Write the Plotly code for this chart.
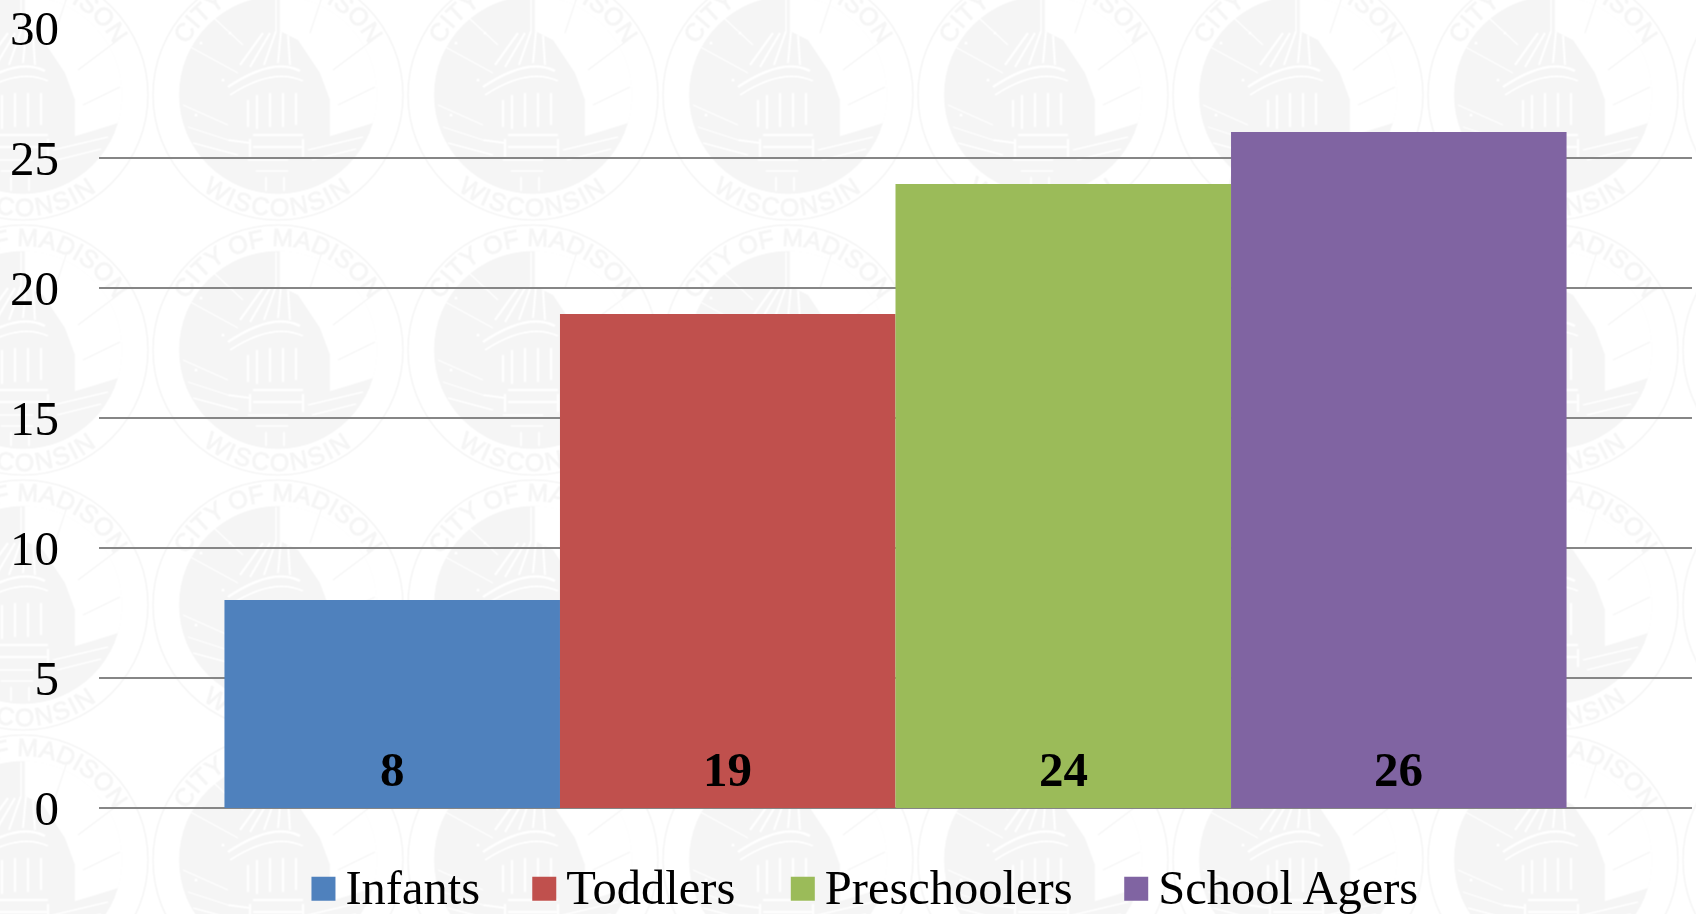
import base64
import plotly.graph_objects as go

# ---- data ----
categories = ["Infants", "Toddlers", "Preschoolers", "School Agers"]
values = [8, 19, 24, 26]
colors = ["#4F81BD", "#C0504D", "#9BBB59", "#8064A2"]
tick_values = [0, 5, 10, 15, 20, 25, 30]
legend_left = [0.1271, 0.2657, 0.4280, 0.6373]

W, H = 1696, 914
ML, MR, MT, MB = 99, 4, 28, 106
PW, PH = W - ML - MR, H - MT - MB

FONT = "Liberation Serif"
INK = "#f5f5f5"
BARGAP = 0.1575


def seal_svg():
    """Faint tiled city seal used as the page wallpaper."""
    white_lines = [
        (-40, -22, -95, -52, 1.2), (-35, -50, -78, -90, 1.2), (-50, 30, -95, 10, 1.2),
        (-50, 45, -90, 32, 1.2), (-30, 5, -30, 32, 2), (-21, 0, -21, 34, 2), (-8, -2, -8, 32, 2),
        (5, -2, 5, 32, 2), (18, -2, 18, 30, 2), (-25, 40, 25, 40, 2), (-25, 52, 25, 52, 2),
        (-28, 62, -28, 44, 2), (25, 62, 25, 44, 2), (-30, 65, 10, 65, 1.6), (-22, 76, 10, 76, 1.6),
        (-12, 82, -12, 96, 1.6), (6, 82, 6, 96, 1.6), (-50, 45, -28, 48, 2), (30, 55, 85, 42, 1.5),
        (34, 65, 78, 54, 1.5), (-85, 48, -40, 60, 1.5), (-2, -98, -2, -62, 1.2),
    ]
    gray_lines = [(55, -25, 95, -55, 1.2), (60, 10, 97, -8, 1.2), (44, -98, 32, -62, 1.2),
                  (52, 42, 93, 30, 1.5)]
    stars = [(-55, -15), (-77, -52), (-48, -62), (-82, 20)]
    parts = [
        f'<circle r="125" fill="none" stroke="{INK}" stroke-width="1.6"/>',
        f'<circle r="99" fill="{INK}"/>',
        '<path d="M2,-99 A99,99 0 0 1 95,28 L52,42 L52,5 L42,-22 L20,-55 L2,-64 Z" fill="#fff"/>',
        '<path d="M-50,-8 Q-5,-38 22,-24" fill="none" stroke="#fff" stroke-width="2.5"/>',
        '<path d="M-48,0 Q-5,-28 25,-14" fill="none" stroke="#fff" stroke-width="1.6"/>',
        '<path d="M-38,-30 L-15,-62 M-28,-28 L-8,-62 M-14,-30 L-2,-64 M0,-32 L3,-64 M12,-30 L10,-60" stroke="#fff" stroke-width="2.2" fill="none"/>',
    ]
    for x1, y1, x2, y2, w in white_lines:
        parts.append(f'<line x1="{x1}" y1="{y1}" x2="{x2}" y2="{y2}" stroke="#fff" stroke-width="{w}"/>')
    for x1, y1, x2, y2, w in gray_lines:
        parts.append(f'<line x1="{x1}" y1="{y1}" x2="{x2}" y2="{y2}" stroke="{INK}" stroke-width="{w}"/>')
    for x, y in stars:
        parts.append(f'<circle cx="{x}" cy="{y}" r="1.5" fill="#fff"/>')
    parts.append(
        f'<text font-family="Liberation Sans" font-size="25" fill="{INK}" stroke="{INK}" stroke-width="0.8">'
        '<textPath href="#topArc" startOffset="50%" text-anchor="middle">CITY OF MADISON</textPath></text>'
    )
    parts.append(
        f'<text font-family="Liberation Sans" font-size="25" fill="{INK}" stroke="{INK}" stroke-width="0.8" letter-spacing="2">'
        '<textPath href="#botArc" startOffset="50%" text-anchor="middle">WISCONSIN</textPath></text>'
    )
    svg = (
        f'<svg xmlns="http://www.w3.org/2000/svg" width="{W}" height="{H}" viewBox="0 0 {W} {H}">'
        '<defs>'
        '<path id="topArc" d="M-104,0 A104,104 0 0 1 104,0"/>'
        '<path id="botArc" d="M-121,0 A121,121 0 0 0 121,0"/>'
        '<pattern id="tile" width="255" height="255" patternUnits="userSpaceOnUse" '
        'patternTransform="translate(150.5,-32.5)">'
        '<g transform="translate(127.5,127.5)">' + "".join(parts) + '</g></pattern></defs>'
        f'<rect width="{W}" height="{H}" fill="url(#tile)"/></svg>'
    )
    return "data:image/svg+xml;base64," + base64.b64encode(svg.encode()).decode()


fig = go.Figure()
for i, (name, val, col) in enumerate(zip(categories, values, colors)):
    fig.add_trace(go.Bar(
        x=[0], y=[val], name=name, marker=dict(color=col, line=dict(width=0)),
        legend="legend" if i == 0 else f"legend{i + 1}", showlegend=True, hoverinfo="skip",
    ))

bar_w = (1 - BARGAP) / len(values)
annotations = [
    dict(x=-(1 - BARGAP) / 2 + bar_w * (i + 0.5), y=0, xref="x", yref="y", text=f"<b>{v}</b>",
         showarrow=False, xanchor="center", yanchor="bottom", yshift=9,
         font=dict(family=FONT, size=49, color="#000000"))
    for i, v in enumerate(values)
]

layout = dict(
    width=W, height=H, autosize=False,
    margin=dict(l=ML, r=MR, t=MT, b=MB, pad=0, autoexpand=False),
    paper_bgcolor="#ffffff", plot_bgcolor="rgba(0,0,0,0)",
    barmode="group", bargap=BARGAP, bargroupgap=0,
    annotations=annotations,
    xaxis=dict(range=[-0.5, 0.5], visible=True, showticklabels=False, showgrid=False,
               zeroline=False, showline=False, ticks=""),
    yaxis=dict(range=[0, 30], tickmode="array", tickvals=tick_values,
               tickfont=dict(family=FONT, size=49, color="#000000"),
               ticks="", ticklabelstandoff=39, gridcolor="#868686", gridwidth=2,
               zeroline=True, zerolinecolor="#868686", zerolinewidth=2, showline=False),
    images=[dict(source=seal_svg(), xref="paper", yref="paper",
                 x=-ML / PW, y=1 + MT / PH, sizex=W / PW, sizey=H / PH,
                 xanchor="left", yanchor="top", sizing="stretch", layer="below")],
    showlegend=True,
)
for i, lx in enumerate(legend_left):
    key = "legend" if i == 0 else f"legend{i + 1}"
    layout[key] = dict(x=lx, y=-0.0495, xanchor="left", yanchor="top", orientation="h",
                       bgcolor="rgba(0,0,0,0)", borderwidth=0, itemwidth=34,
                       font=dict(family=FONT, size=48.5, color="#000000"))
fig.update_layout(**layout)

post = """
document.body.style.margin='0';
document.documentElement.style.overflow='hidden';
var gd = document.getElementById('{plot_id}');
function bigKeys(){
  gd.querySelectorAll('g.legendpoints path').forEach(function(p){
    p.setAttribute('d','M12,16H-12V-8H12Z');
  });
}
gd.on('plotly_afterplot', bigKeys);
bigKeys();
setTimeout(bigKeys, 100);
setTimeout(bigKeys, 500);
"""
fig.write_html("out.html", post_script=post, config={"displayModeBar": False})
